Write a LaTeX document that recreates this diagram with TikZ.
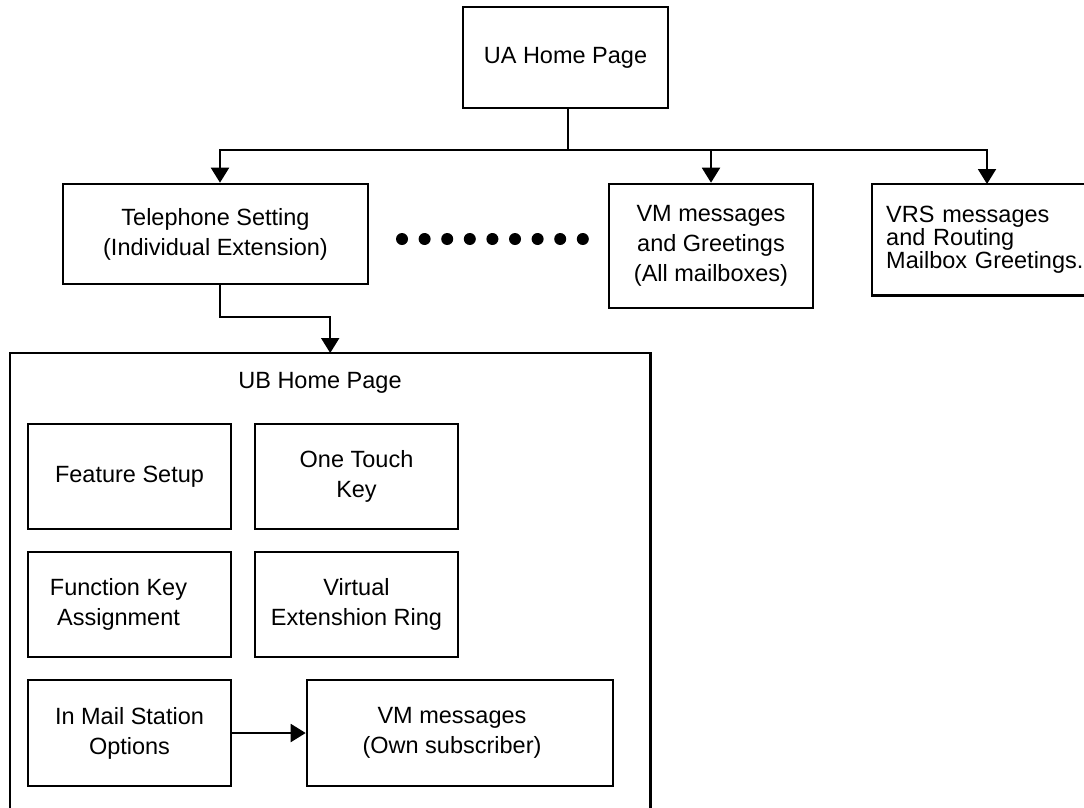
\documentclass[tikz,border=0pt]{standalone}
\usepackage{fontspec}
\setmainfont{Liberation Sans}
\usetikzlibrary{arrows.meta,calc}
\begin{document}
\begin{tikzpicture}[x=1pt,y=-1pt,
  box/.style={draw,line width=2.6pt,inner sep=0pt,align=center,font=\fontsize{23.5}{30}\selectfont},
  openbox/.style={inner sep=0pt,align=center,font=\fontsize{23.5}{30}\selectfont},
  edge/.style={line width=2.6pt},
  plain/.style={inner sep=0pt,align=center,font=\fontsize{23.5}{30}\selectfont},
  link/.style={line width=2pt},
  arr/.style={line width=2pt,-{Triangle[length=15pt,width=18pt]}},
  dot/.style={fill=black}
]
\useasboundingbox (0,0) rectangle (1084,807);

% top level
\node[box,minimum width=205pt,minimum height=101pt] (UA) at (565.5,57.5) {UA Home Page};
\node[box,minimum width=305pt,minimum height=100pt] (Tel) at (215.5,234) {Telephone Setting\\(Individual Extension)};
\node[box,minimum width=204pt,minimum height=124pt] (VM) at (711,246) {VM messages\\and Greetings\\(All mailboxes)};
\node[openbox,anchor=north west,align=left,text width=240pt,inner xsep=14pt,minimum height=111pt,
      font=\fontsize{23.5}{23}\selectfont] (VRS) at (872,184) {VRS messages\\and Routing\\Mailbox Greetings.};
\draw[edge] (VRS.north east) -- (VRS.north west) -- (VRS.south west) -- (VRS.south east);

\coordinate (j) at ($(UA.south)+(2,41)$);
\draw[link] ($(UA.south)+(2,0)$) -- (j);
\draw[arr] (j) -| ($(Tel.north)+(4.5,0)$);
\draw[arr] (j) -| (VM.north);
\draw[arr] (j) -| ($(VRS.north west)+(115,0)$);

% dots
\foreach \i in {0,...,8} {
  \fill[dot] (402+22.6*\i,239) circle (6pt);
}

% UB container
\node[openbox,anchor=north west,minimum width=640pt,minimum height=480pt] (UB) at (10,353) {};
\draw[edge] (UB.south west) -- (UB.north west) -- (UB.north east) -- (UB.south east);
\node[plain] (UBt) at (320,383) {UB Home Page};
\draw[arr] ($(Tel.south)+(4.5,0)$) -- ++(0,32) -| (UB.north);

% inner boxes
\node[box,minimum width=203pt,minimum height=105pt] (FS) at (129.5,476.5) {Feature Setup};
\node[box,minimum width=203pt,minimum height=105pt] (OT) at (356.5,476.5) {One Touch\\Key};
\node[box,minimum width=203pt,minimum height=105pt] (FK) at (129.5,604.5) {\hspace*{-22pt}Function Key\\\hspace*{-22pt}Assignment};
\node[box,minimum width=203pt,minimum height=105pt] (VE) at (356.5,604.5) {Virtual\\Extenshion Ring};
\node[box,minimum width=203pt,minimum height=106pt] (IM) at (129.5,733) {In Mail Station\\Options};
\node[box,minimum width=306pt,minimum height=106pt] (VO) at (460,733) {\hspace*{-16pt}VM messages\\\hspace*{-16pt}(Own subscriber)};
\draw[arr] (IM.east) -- (VO.west);
\end{tikzpicture}
\end{document}
